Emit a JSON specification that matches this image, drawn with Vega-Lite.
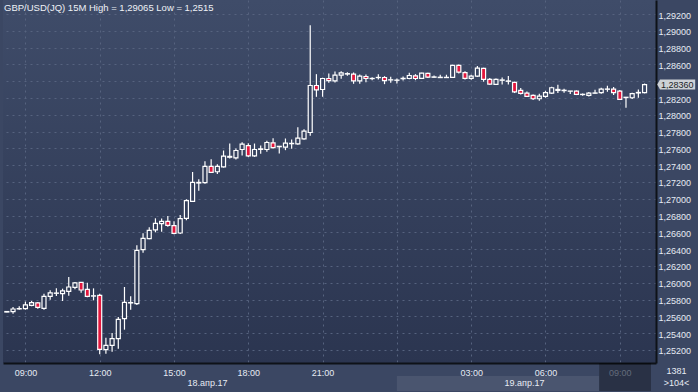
{
  "$schema": "https://vega.github.io/schema/vega-lite/v6.json",
  "width": 653,
  "height": 363,
  "autosize": {"type": "none"},
  "padding": {"left": 3, "top": 0, "right": 42, "bottom": 29},
  "background": "#3b4763",
  "title": {
    "text": "GBP/USD(JQ) 15M High = 1,29065 Low = 1,2515",
    "anchor": "start",
    "frame": "group",
    "orient": "top",
    "offset": 0,
    "baseline": "alphabetic",
    "dy": 20,
    "dx": 1,
    "font": "Liberation Sans",
    "fontSize": 9.5,
    "fontWeight": "normal",
    "color": "#eef1f6"
  },
  "config": {
    "view": {
      "stroke": null,
      "fill": {
        "gradient": "linear",
        "x1": 0, "y1": 0, "x2": 0, "y2": 1,
        "stops": [
          {"offset": 0, "color": "#3f4c69"},
          {"offset": 1, "color": "#2b3550"}
        ]
      }
    },
    "font": "Liberation Sans",
    "axis": {
      "labelFont": "Liberation Sans",
      "labelFontSize": 9,
      "labelColor": "#e6ebf3",
      "domainColor": "#0e1218",
      "domainWidth": 1.5,
      "tickSize": 0,
      "ticks": false,
      "gridColor": "#56637f",
      "gridDash": [2, 4],
      "gridWidth": 1,
      "labelOverlap": false,
      "labelFlush": false
    }
  },
  "data": {
    "values": [
      {"t": "2017-04-18T08:15", "o": 1.25652, "h": 1.25662, "l": 1.25648, "c": 1.25658},
      {"t": "2017-04-18T08:30", "o": 1.25656, "h": 1.25712, "l": 1.25633, "c": 1.25688},
      {"t": "2017-04-18T08:45", "o": 1.25690, "h": 1.25720, "l": 1.25680, "c": 1.25694},
      {"t": "2017-04-18T09:00", "o": 1.25692, "h": 1.25775, "l": 1.25680, "c": 1.25736},
      {"t": "2017-04-18T09:15", "o": 1.25732, "h": 1.25783, "l": 1.25720, "c": 1.25763},
      {"t": "2017-04-18T09:30", "o": 1.25760, "h": 1.25771, "l": 1.25692, "c": 1.25708},
      {"t": "2017-04-18T09:45", "o": 1.25696, "h": 1.25871, "l": 1.25680, "c": 1.25839},
      {"t": "2017-04-18T10:00", "o": 1.25839, "h": 1.25910, "l": 1.25799, "c": 1.25879},
      {"t": "2017-04-18T10:15", "o": 1.25875, "h": 1.25934, "l": 1.25843, "c": 1.25878},
      {"t": "2017-04-18T10:30", "o": 1.25871, "h": 1.25930, "l": 1.25783, "c": 1.25903},
      {"t": "2017-04-18T10:45", "o": 1.25898, "h": 1.26069, "l": 1.25847, "c": 1.25950},
      {"t": "2017-04-18T11:00", "o": 1.25946, "h": 1.26010, "l": 1.25922, "c": 1.25998},
      {"t": "2017-04-18T11:15", "o": 1.26006, "h": 1.26010, "l": 1.25883, "c": 1.25914},
      {"t": "2017-04-18T11:30", "o": 1.25922, "h": 1.26000, "l": 1.25827, "c": 1.25839},
      {"t": "2017-04-18T11:45", "o": 1.25842, "h": 1.25934, "l": 1.25791, "c": 1.25845},
      {"t": "2017-04-18T12:00", "o": 1.25851, "h": 1.25871, "l": 1.25150, "c": 1.25208},
      {"t": "2017-04-18T12:15", "o": 1.25204, "h": 1.25347, "l": 1.25155, "c": 1.25256},
      {"t": "2017-04-18T12:30", "o": 1.25256, "h": 1.25402, "l": 1.25180, "c": 1.25335},
      {"t": "2017-04-18T12:45", "o": 1.25335, "h": 1.25593, "l": 1.25216, "c": 1.25565},
      {"t": "2017-04-18T13:00", "o": 1.25573, "h": 1.25950, "l": 1.25442, "c": 1.25767},
      {"t": "2017-04-18T13:15", "o": 1.25760, "h": 1.25839, "l": 1.25680, "c": 1.25765},
      {"t": "2017-04-18T13:30", "o": 1.25752, "h": 1.26446, "l": 1.25736, "c": 1.26387},
      {"t": "2017-04-18T13:45", "o": 1.26394, "h": 1.26589, "l": 1.26359, "c": 1.26529},
      {"t": "2017-04-18T14:00", "o": 1.26525, "h": 1.26660, "l": 1.26517, "c": 1.26625},
      {"t": "2017-04-18T14:15", "o": 1.26629, "h": 1.26768, "l": 1.26601, "c": 1.26708},
      {"t": "2017-04-18T14:30", "o": 1.26704, "h": 1.26764, "l": 1.26609, "c": 1.26732},
      {"t": "2017-04-18T14:45", "o": 1.26732, "h": 1.26795, "l": 1.26668, "c": 1.26684},
      {"t": "2017-04-18T15:00", "o": 1.26680, "h": 1.26732, "l": 1.26577, "c": 1.26589},
      {"t": "2017-04-18T15:15", "o": 1.26593, "h": 1.26807, "l": 1.26581, "c": 1.26764},
      {"t": "2017-04-18T15:30", "o": 1.26767, "h": 1.26994, "l": 1.26744, "c": 1.26978},
      {"t": "2017-04-18T15:45", "o": 1.26970, "h": 1.27319, "l": 1.26962, "c": 1.27196},
      {"t": "2017-04-18T16:00", "o": 1.27188, "h": 1.27232, "l": 1.27097, "c": 1.27195},
      {"t": "2017-04-18T16:15", "o": 1.27192, "h": 1.27446, "l": 1.27180, "c": 1.27386},
      {"t": "2017-04-18T16:30", "o": 1.27386, "h": 1.27470, "l": 1.27307, "c": 1.27315},
      {"t": "2017-04-18T16:45", "o": 1.27322, "h": 1.27410, "l": 1.27295, "c": 1.27385},
      {"t": "2017-04-18T17:00", "o": 1.27380, "h": 1.27575, "l": 1.27372, "c": 1.27507},
      {"t": "2017-04-18T17:15", "o": 1.27495, "h": 1.27658, "l": 1.27480, "c": 1.27505},
      {"t": "2017-04-18T17:30", "o": 1.27488, "h": 1.27599, "l": 1.27468, "c": 1.27575},
      {"t": "2017-04-18T17:45", "o": 1.27587, "h": 1.27674, "l": 1.27516, "c": 1.27650},
      {"t": "2017-04-18T18:00", "o": 1.27634, "h": 1.27662, "l": 1.27499, "c": 1.27511},
      {"t": "2017-04-18T18:15", "o": 1.27511, "h": 1.27658, "l": 1.27499, "c": 1.27587},
      {"t": "2017-04-18T18:30", "o": 1.27588, "h": 1.27634, "l": 1.27535, "c": 1.27594},
      {"t": "2017-04-18T18:45", "o": 1.27587, "h": 1.27690, "l": 1.27559, "c": 1.27670},
      {"t": "2017-04-18T19:00", "o": 1.27666, "h": 1.27722, "l": 1.27599, "c": 1.27610},
      {"t": "2017-04-18T19:15", "o": 1.27620, "h": 1.27630, "l": 1.27539, "c": 1.27625},
      {"t": "2017-04-18T19:30", "o": 1.27614, "h": 1.27718, "l": 1.27579, "c": 1.27662},
      {"t": "2017-04-18T19:45", "o": 1.27656, "h": 1.27706, "l": 1.27595, "c": 1.27660},
      {"t": "2017-04-18T20:00", "o": 1.27654, "h": 1.27853, "l": 1.27642, "c": 1.27722},
      {"t": "2017-04-18T20:15", "o": 1.27714, "h": 1.27829, "l": 1.27702, "c": 1.27805},
      {"t": "2017-04-18T20:30", "o": 1.27789, "h": 1.29065, "l": 1.27750, "c": 1.28349},
      {"t": "2017-04-18T20:45", "o": 1.28349, "h": 1.28484, "l": 1.28214, "c": 1.28297},
      {"t": "2017-04-18T21:00", "o": 1.28301, "h": 1.28440, "l": 1.28214, "c": 1.28432},
      {"t": "2017-04-18T21:15", "o": 1.28432, "h": 1.28492, "l": 1.28381, "c": 1.28408},
      {"t": "2017-04-18T21:30", "o": 1.28404, "h": 1.28515, "l": 1.28384, "c": 1.28472},
      {"t": "2017-04-18T21:45", "o": 1.28472, "h": 1.28519, "l": 1.28428, "c": 1.28500},
      {"t": "2017-04-18T22:00", "o": 1.28485, "h": 1.28508, "l": 1.28464, "c": 1.28490},
      {"t": "2017-04-18T22:15", "o": 1.28484, "h": 1.28504, "l": 1.28369, "c": 1.28404},
      {"t": "2017-04-18T22:30", "o": 1.28404, "h": 1.28480, "l": 1.28369, "c": 1.28460},
      {"t": "2017-04-18T22:45", "o": 1.28456, "h": 1.28480, "l": 1.28389, "c": 1.28432},
      {"t": "2017-04-18T23:00", "o": 1.28431, "h": 1.28448, "l": 1.28412, "c": 1.28433},
      {"t": "2017-04-18T23:15", "o": 1.28443, "h": 1.28484, "l": 1.28420, "c": 1.28445},
      {"t": "2017-04-18T23:30", "o": 1.28444, "h": 1.28460, "l": 1.28365, "c": 1.28408},
      {"t": "2017-04-18T23:45", "o": 1.28415, "h": 1.28452, "l": 1.28381, "c": 1.28417},
      {"t": "2017-04-19T00:00", "o": 1.28411, "h": 1.28432, "l": 1.28373, "c": 1.28413},
      {"t": "2017-04-19T00:15", "o": 1.28430, "h": 1.28456, "l": 1.28408, "c": 1.28434},
      {"t": "2017-04-19T00:30", "o": 1.28432, "h": 1.28500, "l": 1.28424, "c": 1.28468},
      {"t": "2017-04-19T00:45", "o": 1.28464, "h": 1.28484, "l": 1.28412, "c": 1.28432},
      {"t": "2017-04-19T01:00", "o": 1.28434, "h": 1.28500, "l": 1.28432, "c": 1.28495},
      {"t": "2017-04-19T01:15", "o": 1.28493, "h": 1.28501, "l": 1.28437, "c": 1.28449},
      {"t": "2017-04-19T01:30", "o": 1.28447, "h": 1.28469, "l": 1.28441, "c": 1.28451},
      {"t": "2017-04-19T01:45", "o": 1.28443, "h": 1.28477, "l": 1.28437, "c": 1.28447},
      {"t": "2017-04-19T02:00", "o": 1.28443, "h": 1.28477, "l": 1.28439, "c": 1.28446},
      {"t": "2017-04-19T02:15", "o": 1.28445, "h": 1.28596, "l": 1.28437, "c": 1.28588},
      {"t": "2017-04-19T02:30", "o": 1.28588, "h": 1.28600, "l": 1.28493, "c": 1.28509},
      {"t": "2017-04-19T02:45", "o": 1.28501, "h": 1.28517, "l": 1.28421, "c": 1.28433},
      {"t": "2017-04-19T03:00", "o": 1.28433, "h": 1.28477, "l": 1.28417, "c": 1.28461},
      {"t": "2017-04-19T03:15", "o": 1.28461, "h": 1.28580, "l": 1.28449, "c": 1.28556},
      {"t": "2017-04-19T03:30", "o": 1.28552, "h": 1.28560, "l": 1.28394, "c": 1.28421},
      {"t": "2017-04-19T03:45", "o": 1.28421, "h": 1.28437, "l": 1.28358, "c": 1.28366},
      {"t": "2017-04-19T04:00", "o": 1.28362, "h": 1.28433, "l": 1.28358, "c": 1.28421},
      {"t": "2017-04-19T04:15", "o": 1.28411, "h": 1.28445, "l": 1.28362, "c": 1.28415},
      {"t": "2017-04-19T04:30", "o": 1.28399, "h": 1.28461, "l": 1.28362, "c": 1.28403},
      {"t": "2017-04-19T04:45", "o": 1.28386, "h": 1.28394, "l": 1.28259, "c": 1.28274},
      {"t": "2017-04-19T05:00", "o": 1.28290, "h": 1.28318, "l": 1.28243, "c": 1.28255},
      {"t": "2017-04-19T05:15", "o": 1.28259, "h": 1.28278, "l": 1.28211, "c": 1.28219},
      {"t": "2017-04-19T05:30", "o": 1.28231, "h": 1.28243, "l": 1.28175, "c": 1.28191},
      {"t": "2017-04-19T05:45", "o": 1.28191, "h": 1.28251, "l": 1.28167, "c": 1.28223},
      {"t": "2017-04-19T06:00", "o": 1.28219, "h": 1.28286, "l": 1.28203, "c": 1.28263},
      {"t": "2017-04-19T06:15", "o": 1.28259, "h": 1.28334, "l": 1.28247, "c": 1.28322},
      {"t": "2017-04-19T06:30", "o": 1.28290, "h": 1.28358, "l": 1.28259, "c": 1.28302},
      {"t": "2017-04-19T06:45", "o": 1.28288, "h": 1.28310, "l": 1.28263, "c": 1.28292},
      {"t": "2017-04-19T07:00", "o": 1.28281, "h": 1.28284, "l": 1.28247, "c": 1.28283},
      {"t": "2017-04-19T07:15", "o": 1.28282, "h": 1.28290, "l": 1.28235, "c": 1.28243},
      {"t": "2017-04-19T07:30", "o": 1.28241, "h": 1.28255, "l": 1.28227, "c": 1.28244},
      {"t": "2017-04-19T07:45", "o": 1.28231, "h": 1.28271, "l": 1.28219, "c": 1.28259},
      {"t": "2017-04-19T08:00", "o": 1.28257, "h": 1.28298, "l": 1.28251, "c": 1.28260},
      {"t": "2017-04-19T08:15", "o": 1.28263, "h": 1.28322, "l": 1.28251, "c": 1.28306},
      {"t": "2017-04-19T08:30", "o": 1.28304, "h": 1.28346, "l": 1.28274, "c": 1.28307},
      {"t": "2017-04-19T08:45", "o": 1.28306, "h": 1.28330, "l": 1.28235, "c": 1.28263},
      {"t": "2017-04-19T09:00", "o": 1.28282, "h": 1.28294, "l": 1.28175, "c": 1.28183},
      {"t": "2017-04-19T09:15", "o": 1.28205, "h": 1.28211, "l": 1.28084, "c": 1.28209},
      {"t": "2017-04-19T09:30", "o": 1.28203, "h": 1.28263, "l": 1.28187, "c": 1.28251},
      {"t": "2017-04-19T09:45", "o": 1.28260, "h": 1.28302, "l": 1.28203, "c": 1.28266},
      {"t": "2017-04-19T10:00", "o": 1.28263, "h": 1.28372, "l": 1.28255, "c": 1.28360}
    ]
  },
  "layer": [
    {
      "mark": {"type": "rule", "color": "#ffffff", "strokeWidth": 1.2, "clip": true},
      "encoding": {
        "x": {
          "field": "t",
          "type": "temporal",
          "scale": {"domain": [
            {"year": 2017, "month": 4, "date": 18, "hours": 8, "minutes": 17, "seconds": 48},
            {"year": 2017, "month": 4, "date": 19, "hours": 10, "minutes": 15, "seconds": 36}
          ]},
          "axis": {
            "orient": "bottom",
            "title": null,
            "grid": true,
            "domain": true,
            "domainColor": "#0e1218",
            "domainWidth": 2,
            "labelOverlap": false,
            "tickCount": 50,
            "values": [
              {"year": 2017, "month": 4, "date": 18, "hours": 9},
              {"year": 2017, "month": 4, "date": 18, "hours": 12},
              {"year": 2017, "month": 4, "date": 18, "hours": 15},
              {"year": 2017, "month": 4, "date": 18, "hours": 18},
              {"year": 2017, "month": 4, "date": 18, "hours": 21},
              {"year": 2017, "month": 4, "date": 19, "hours": 0},
              {"year": 2017, "month": 4, "date": 19, "hours": 3},
              {"year": 2017, "month": 4, "date": 19, "hours": 6},
              {"year": 2017, "month": 4, "date": 19, "hours": 9}
            ],
            "labelExpr": "hours(datum.value) == 0 ? '' : timeFormat(datum.value, '%H:%M')",
            "labelPadding": 5,
            "labelBaseline": "top",
            "labelColor": {
              "condition": {"test": "date(datum.value) == 19 && hours(datum.value) == 9", "value": "#8e9ab0"},
              "value": "#e6ebf3"
            }
          }
        },
        "y": {
          "field": "l",
          "type": "quantitative",
          "scale": {"domain": [1.250452, 1.293667], "zero": false, "nice": false},
          "axis": {
            "orient": "right",
            "grid": true,
            "domain": true,
            "domainColor": "#0e1218",
            "domainWidth": 2,
            "labelOverlap": false,
            "labelBound": false,
            "tickCount": 50,
            "values": [1.252, 1.254, 1.256, 1.258, 1.26, 1.262, 1.264, 1.266, 1.268, 1.27, 1.272, 1.274, 1.276, 1.278, 1.28, 1.282, 1.284, 1.286, 1.288, 1.29, 1.292],
            "labelExpr": "abs(datum.value - 1.284) < 0.0001 ? '' : replace(format(datum.value, '.5f'), '.', ',')",
            "labelPadding": 2,
            "labelBaseline": "middle",
            "labelOffset": 1,
            "title": ["1381", ">104<"],
            "titleAngle": 0,
            "titleX": 20,
            "titleY": 366,
            "titleAlign": "center",
            "titleBaseline": "top",
            "titleFont": "Liberation Sans",
            "titleFontSize": 9,
            "titleFontWeight": "normal",
            "titleColor": "#e6ebf3",
            "titleLineHeight": 12
          }
        },
        "y2": {"field": "h"}
      }
    },
    {
      "mark": {"type": "bar", "width": 4, "stroke": "#ffffff", "strokeWidth": 1.2, "clip": true},
      "encoding": {
        "x": {
          "field": "t",
          "type": "temporal",
          "scale": {"domain": [
            {"year": 2017, "month": 4, "date": 18, "hours": 8, "minutes": 17, "seconds": 48},
            {"year": 2017, "month": 4, "date": 19, "hours": 10, "minutes": 15, "seconds": 36}
          ]},
          "axis": {
            "orient": "bottom",
            "title": null,
            "grid": false,
            "domain": false,
            "labelOverlap": false,
            "values": [
              {"year": 2017, "month": 4, "date": 18, "hours": 16, "minutes": 20},
              {"year": 2017, "month": 4, "date": 19, "hours": 5, "minutes": 8}
            ],
            "labelExpr": "date(datum.value) == 18 ? '18.апр.17' : '19.апр.17'",
            "labelPadding": 15,
            "labelBaseline": "top"
          }
        },
        "y": {
          "field": "o",
          "type": "quantitative",
          "scale": {"domain": [1.250452, 1.293667], "zero": false, "nice": false}
        },
        "y2": {"field": "c"},
        "fill": {
          "field": "o",
          "type": "quantitative",
          "scale": {"domain": [1.250452, 1.293667], "range": ["#2b3550", "#3f4c69"], "interpolate": "rgb"},
          "legend": null,
          "condition": {"test": "datum.c < datum.o", "value": "#e3173d"}
        }
      }
    },
    {
      "data": {"values": [{"a": "2017-04-19T00:00", "b": "2017-04-19T08:10"}]},
      "mark": {"type": "rect", "color": "#ffffff", "opacity": 0.08, "height": 15, "yOffset": 20.5, "clip": false},
      "encoding": {
        "x": {"field": "a", "type": "temporal", "axis": null},
        "x2": {"field": "b"},
        "y": {"value": "height"}
      }
    },
    {
      "data": {"values": [{"a": "2017-04-19T08:10", "b": "2017-04-19T10:15:36"}]},
      "mark": {"type": "rect", "color": "#000000", "opacity": 0.3, "height": 28, "yOffset": 14, "clip": false},
      "encoding": {
        "x": {"field": "a", "type": "temporal", "axis": null},
        "x2": {"field": "b"},
        "y": {"value": "height"}
      }
    },
    {
      "data": {"values": [{"p": 1.2836, "label": "1,28360"}]},
      "mark": {
        "type": "point",
        "shape": "M0.03,0L0.1,-0.125L0.98,-0.125L0.98,0.125L0.1,0.125Z",
        "size": 6400,
        "filled": true,
        "fill": "#cdd1d6",
        "strokeWidth": 0,
        "opacity": 1
      },
      "encoding": {
        "x": {"value": "width"},
        "y": {
          "field": "p",
          "type": "quantitative",
          "scale": {"domain": [1.250452, 1.293667], "zero": false, "nice": false}
        }
      }
    },
    {
      "data": {"values": [{"p": 1.2836, "label": "1,28360"}]},
      "mark": {
        "type": "text",
        "align": "left",
        "baseline": "middle",
        "dx": 5,
        "dy": 0.5,
        "font": "Liberation Sans",
        "fontSize": 9,
        "color": "#1c1f27"
      },
      "encoding": {
        "x": {"value": "width"},
        "y": {
          "field": "p",
          "type": "quantitative",
          "scale": {"domain": [1.250452, 1.293667], "zero": false, "nice": false}
        },
        "text": {"field": "label"}
      }
    }
  ],
  "resolve": {"axis": {"x": "independent"}}
}
